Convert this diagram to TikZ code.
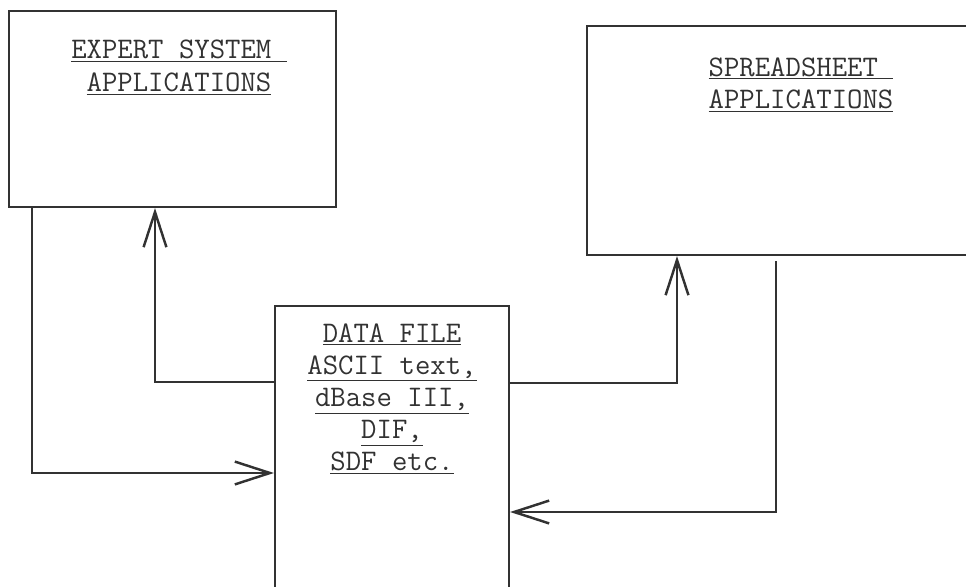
\documentclass[tikz,border=0pt]{standalone}
\usepackage{tikz}
\usetikzlibrary{arrows.meta,fit,calc}
\definecolor{ink}{RGB}{50,50,50}
\tikzset{
	box/.style={draw=ink,line width=1.2pt,inner sep=0pt},
	title/.style={inner sep=0pt,anchor=north,align=center,text=ink,font=\ttfamily\fontsize{17}{18.3}\selectfont},
	flow/.style={draw=ink,line width=0.9pt,-{Straight Barb[length=20pt,width=13pt,line width=1.4pt]}}
}
\begin{document}
\begin{tikzpicture}[x=0.02cm,y=-0.02cm]
	\useasboundingbox (0,0) rectangle (966,587);
	\node[box,fit={(9,11) (336,207)}] (expert) {};
	\node[box,fit={(587,26) (980,255)}] (spread) {};
	\node[box,fit={(275,306) (509,600)}] (data) {};
	\node[title] (experttitle) at (179,40) {\underline{EXPERT SYSTEM\ }\\\underline{APPLICATIONS}};
	\node[title] (spreadtitle) at (801,57) {\underline{SPREADSHEET\ }\\\underline{APPLICATIONS}};
	\node[title] (datatitle) at (392,323) {\underline{DATA FILE}\\\underline{ASCII text,}\\\underline{dBase III,}\\\underline{DIF,}\\\underline{SDF etc.}};
	\coordinate (exdown) at (32,473);
	\coordinate (exup) at (155,382);
	\coordinate (spup) at (677,383);
	\coordinate (spdown) at (776,512);
	\draw[flow] (expert.south -| exdown) |- (data.west |- exdown);
	\draw[flow] (data.west |- exup) -| (expert.south -| exup);
	\draw[flow] (data.east |- spup) -| (spread.south -| spup);
	\draw[flow] ($(spread.south -| spdown)+(0,5)$) |- (data.east |- spdown);
\end{tikzpicture}
\end{document}
